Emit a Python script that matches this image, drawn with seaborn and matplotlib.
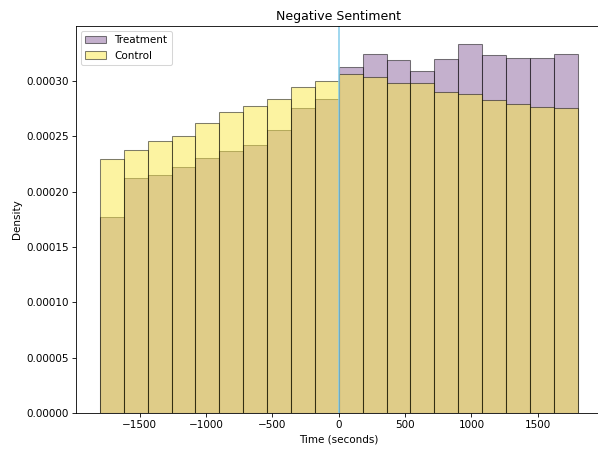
import numpy as np
import pandas as pd
import seaborn as sns
import matplotlib.pyplot as plt

# bin edges (seconds) and per-bin densities
bin_edges = [-1800, -1620, -1440, -1260, -1080, -900, -720, -540, -360, -180, 0,
             180, 360, 540, 720, 900, 1080, 1260, 1440, 1620, 1800]

treatment_density = [1.768e-4, 2.123e-4, 2.148e-4, 2.223e-4, 2.307e-4,
                     2.365e-4, 2.419e-4, 2.557e-4, 2.759e-4, 2.835e-4,
                     3.129e-4, 3.241e-4, 3.187e-4, 3.088e-4, 3.199e-4,
                     3.332e-4, 3.235e-4, 3.205e-4, 3.205e-4, 3.241e-4]

control_density = [2.292e-4, 2.374e-4, 2.458e-4, 2.506e-4, 2.623e-4,
                   2.720e-4, 2.777e-4, 2.837e-4, 2.943e-4, 2.997e-4,
                   3.061e-4, 3.039e-4, 2.985e-4, 2.985e-4, 2.901e-4,
                   2.880e-4, 2.831e-4, 2.789e-4, 2.768e-4, 2.753e-4]

groups = ['Treatment', 'Control']
colors = {'Treatment': '#8b639d', 'Control': '#fbe945'}

centers = [(a + b) / 2 for a, b in zip(bin_edges[:-1], bin_edges[1:])]
df = pd.DataFrame({
    'time': centers + centers,
    'density': treatment_density + control_density,
    'group': ['Treatment'] * len(centers) + ['Control'] * len(centers),
})

fig = plt.figure(figsize=(598 / 75, 450 / 75), dpi=75)
ax = fig.add_axes([76 / 598, 37 / 450, 525.5 / 598, 387 / 450])

# treatment first, control layered on top
for g in groups:
    sub = df[df['group'] == g]
    sns.histplot(data=sub, x='time', weights='density', bins=bin_edges,
                 stat='count', color=colors[g], alpha=0.5,
                 edgecolor=(0, 0, 0, 0.5), linewidth=1, label=g, ax=ax)

ax.axvline(0, color='skyblue', linewidth=1.5)
ax.set_title('Negative Sentiment', fontsize=12)
ax.set_xlabel('Time (seconds)')
ax.set_ylabel('Density')
ax.legend(loc='upper left')
ax.spines['right'].set_visible(False)

fig.savefig('out.png', dpi=75)
